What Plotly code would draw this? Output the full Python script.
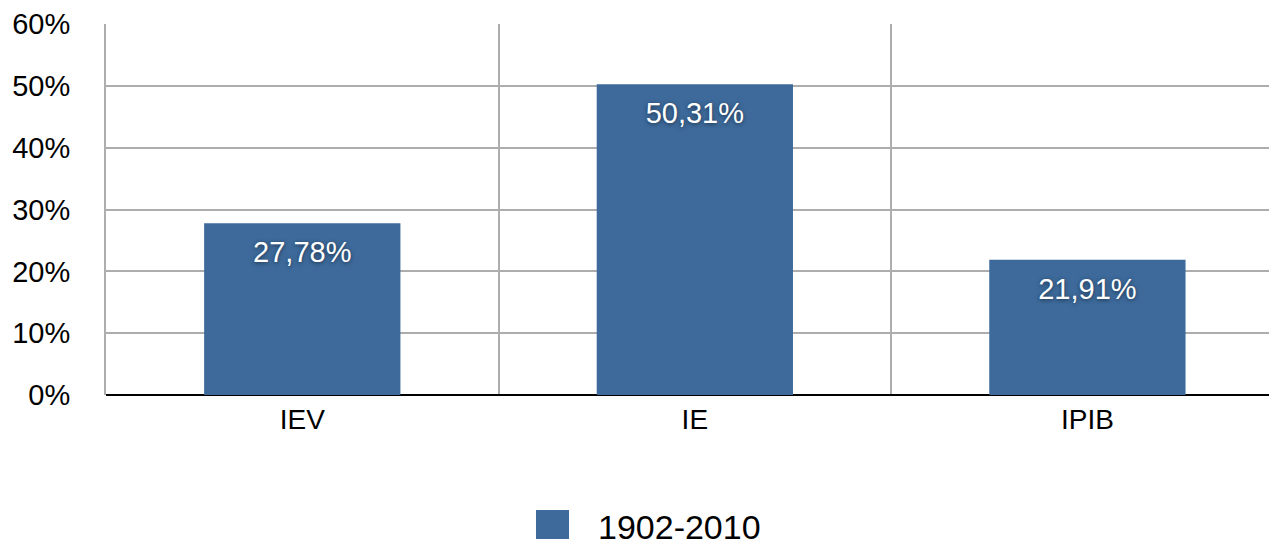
import plotly.graph_objects as go

categories = ["IEV", "IE", "IPIB"]
values = [27.78, 50.31, 21.91]
series_name = "1902-2010"
y_ticks = [0, 10, 20, 30, 40, 50, 60]
y_tick_labels = [f"{v}%" for v in y_ticks]

BAR = "#3d6a9b"
GRID = "#adadad"
FONT = "Liberation Sans, Arial, Helvetica, sans-serif"

fig = go.Figure()
fig.add_trace(go.Bar(
    x=categories, y=values, name=series_name,
    marker=dict(color=BAR, line=dict(width=0)),
    width=0.5,
    showlegend=False, hoverinfo="x+y",
))
# value labels placed just under each bar top
fig.add_trace(go.Scatter(
    x=categories, y=values, mode="markers+text",
    marker=dict(size=26, opacity=0),
    texttemplate="%{y:.2f}%",
    textposition="bottom center",
    textfont=dict(color="white", size=29, family=FONT,
                  shadow="0px 1px 4px rgba(0,0,0,0.55)"),
    showlegend=False, hoverinfo="skip",
))

fig.update_layout(
    width=1269, height=532,
    margin=dict(l=98, r=0, t=16, b=145),
    paper_bgcolor="white", plot_bgcolor="white",
    separators=",.",
    font=dict(family=FONT, size=28, color="black"),
    showlegend=False,
    xaxis=dict(
        type="category", range=[-0.5, 2.483],
        tickson="boundaries", showgrid=True, gridcolor=GRID, gridwidth=2,
        ticks="", ticklabelstandoff=5, showline=False, zeroline=False,
        tickfont=dict(size=28),
    ),
    yaxis=dict(
        range=[0, 60.05], tickmode="array", tickvals=y_ticks, ticktext=y_tick_labels,
        showgrid=True, gridcolor=GRID, gridwidth=2,
        zeroline=True, zerolinecolor="black", zerolinewidth=2,
        showline=True, linecolor=GRID, linewidth=2,
        ticks="", ticklabelstandoff=28, tickfont=dict(size=29),
    ),
    shapes=[dict(type="rect", xref="paper", yref="paper",
                 x0=0.3672, x1=0.3954, y0=-0.388, y1=-0.31,
                 fillcolor=BAR, line=dict(width=0))],
    annotations=[dict(text=series_name, xref="paper", yref="paper",
                      x=0.4184, y=-0.356, xanchor="left", yanchor="middle",
                      showarrow=False, font=dict(size=34, family=FONT, color="black"))],
)

fig.write_html("out.html")
